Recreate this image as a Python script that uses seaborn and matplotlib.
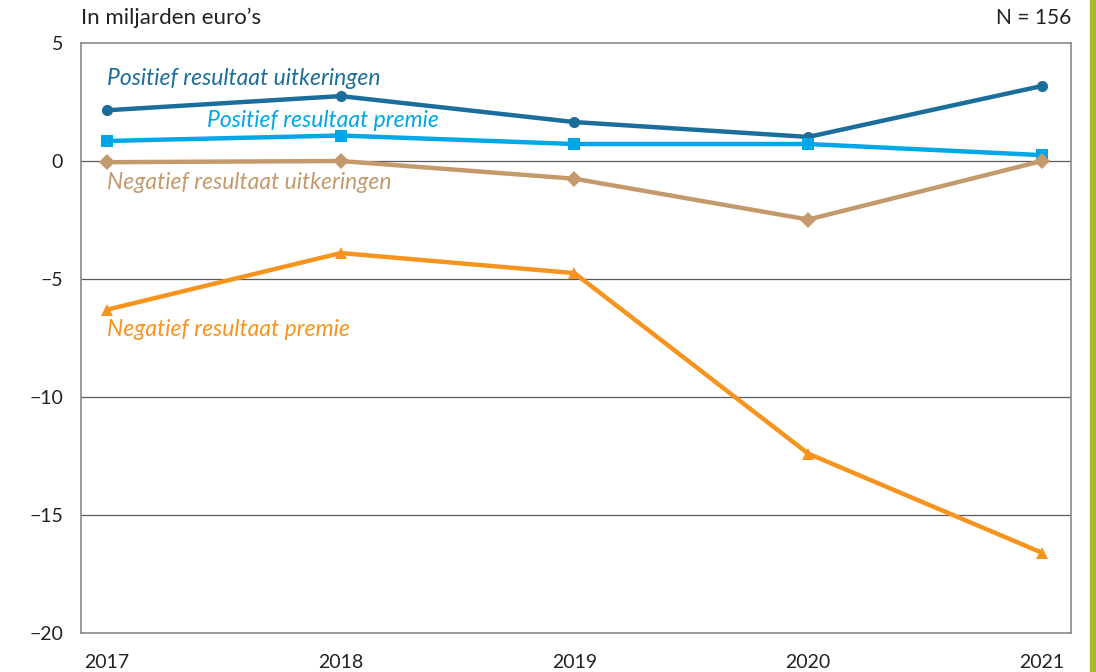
import matplotlib
matplotlib.use("Agg")
import matplotlib.pyplot as plt
import seaborn as sns
import pandas as pd

# Data
years = [2017, 2018, 2019, 2020, 2021]
series_names = [
    "Positief resultaat uitkeringen",
    "Positief resultaat premie",
    "Negatief resultaat uitkeringen",
    "Negatief resultaat premie",
]
pos_uitkeringen = [2.15, 2.75, 1.65, 1.02, 3.18]
pos_premie = [0.85, 1.08, 0.72, 0.72, 0.25]
neg_uitkeringen = [-0.05, 0.0, -0.75, -2.48, 0.0]
neg_premie = [-6.3, -3.9, -4.75, -12.4, -16.6]
y_ticks = [5, 0, -5, -10, -15, -20]

colors = ["#1b6d9b", "#00a7e6", "#c49a6c", "#f7941d"]
markers = ["o", "s", "D", "^"]

# Label positions (x in years, y in data units)
label_pos = [(2017.0, 3.5), (2017.43, 1.73), (2017.0, -0.93), (2017.0, -7.15)]

# Long-format table for seaborn
rows = []
for name, vals in zip(series_names, [pos_uitkeringen, pos_premie, neg_uitkeringen, neg_premie]):
    for yr, v in zip(years, vals):
        rows.append([yr, v, name])
df = pd.DataFrame(rows, columns=["Jaar", "Waarde", "Reeks"])

sns.set_theme(style="white")
plt.rcParams["font.family"] = ["Lato", "DejaVu Sans"]

fig = plt.figure(figsize=(10.96, 6.72), dpi=100)
ax = fig.add_axes([0.0739, 0.058, 0.9033, 0.878])

for ytk in y_ticks[1:-1]:
    ax.axhline(ytk, color="#5a5a5a", linewidth=0.9, zorder=1)

sns.lineplot(data=df, x="Jaar", y="Waarde", hue="Reeks", style="Reeks",
             palette=colors, markers=markers, dashes=False,
             hue_order=series_names, style_order=series_names,
             linewidth=3.2, markersize=8, markeredgewidth=0,
             legend=False, ax=ax, zorder=3)

for (lx, ly), name, c in zip(label_pos, series_names, colors):
    ax.text(lx, ly, name, color=c, fontsize=16.5, style="italic",
            ha="left", va="center")

ax.set_xlim(2016.889, 2021.124)
ax.set_ylim(-20, 5)
ax.set_xticks(years)
ax.set_xticklabels([str(y) for y in years])
ax.set_yticks(y_ticks)
ax.set_yticklabels([str(t).replace("-", "\u2212") for t in y_ticks])
ax.set_xlabel("")
ax.set_ylabel("")

for sp in ax.spines.values():
    sp.set_color("#8a8a8a")
    sp.set_linewidth(1.2)

ax.tick_params(axis="both", direction="out", length=9, width=1.1,
               color="#8a8a8a", labelsize=14, labelcolor="#222222")
ax.tick_params(axis="x", pad=6)
ax.tick_params(axis="y", pad=4)

fig.text(0.0739, 0.988, "In miljarden euro\u2019s", ha="left", va="top",
         fontsize=16, color="#222222")
fig.text(0.9772, 0.988, "N = 156", ha="right", va="top",
         fontsize=15, color="#222222")

# Green side bar
fig.patches.append(matplotlib.patches.Rectangle((0.9945, 0), 0.006, 1,
                   transform=fig.transFigure, color="#a7b92b"))

plt.savefig("out.png", dpi=100)
